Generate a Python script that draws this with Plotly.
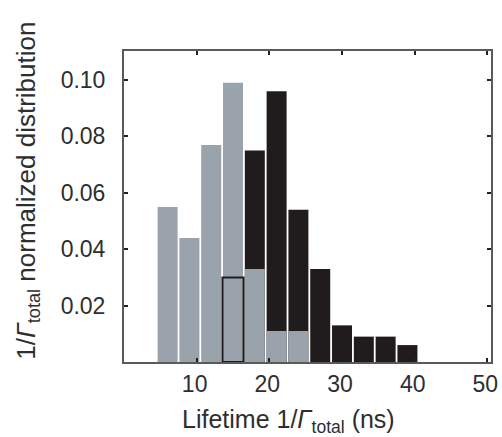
import plotly.graph_objects as go

# Bin centres (ns), bin width 3 ns
bin_centers = [6, 9, 12, 15, 18, 21, 24, 27, 30, 33, 36, 39]
gray_values = [0.055, 0.044, 0.077, 0.099, 0.033, 0.011, 0.011, 0, 0, 0, 0, 0]
black_values = [0, 0, 0, 0.030, 0.075, 0.096, 0.054, 0.033, 0.013, 0.009, 0.009, 0.006]
outline_widths = [0, 0, 0, 2, 0, 0, 0, 0, 0, 0, 0, 0]

x_ticks = [10, 20, 30, 40, 50]
x_ticklabels = ["10", "20", "30", "40", "50"]
y_ticks = [0.02, 0.04, 0.06, 0.08, 0.10]
y_ticklabels = ["0.02", "0.04", "0.06", "0.08", "0.10"]

x_title = "Lifetime 1/<i>Γ</i><sub>total</sub> (ns)"
y_title = "1/<i>Γ</i><sub>total</sub> normalized distribution"

GRAY = "#9aa2ac"
BLACK = "#201c1d"
TXT = "#2e2e2e"
FONT = "Liberation Sans, Arial"

fig = go.Figure()
fig.add_trace(go.Bar(x=bin_centers, y=black_values, width=2.75,
                     marker=dict(color=BLACK, line=dict(width=0)), showlegend=False))
fig.add_trace(go.Bar(x=bin_centers, y=gray_values, width=2.75,
                     marker=dict(color=GRAY, line=dict(width=0)), showlegend=False))
fig.add_trace(go.Bar(x=bin_centers, y=black_values, width=2.9,
                     marker=dict(color="rgba(0,0,0,0)",
                                 line=dict(color=BLACK, width=outline_widths)),
                     showlegend=False))

axis_common = dict(showline=True, linecolor="#5a5a5a", linewidth=2, mirror="ticks",
                   ticks="inside", ticklen=4, tickwidth=1.5, tickcolor="#222",
                   showgrid=False, zeroline=False,
                   tickfont=dict(family=FONT, size=23, color=TXT))

fig.update_layout(
    width=502, height=437,
    margin=dict(l=124, r=4, t=51, b=75),
    paper_bgcolor="white", plot_bgcolor="white",
    barmode="overlay",
    xaxis=dict(range=[0, 50.5], tickvals=x_ticks, ticktext=x_ticklabels,
               ticklabelshift=-2, ticklabeloverflow="allow",
               **axis_common),
    yaxis=dict(range=[0, 0.1103], tickvals=y_ticks, ticktext=y_ticklabels,
               ticklabelstandoff=12,
               **axis_common),
    annotations=[
        dict(text=x_title, xref="paper", yref="paper", x=0.449, y=-0.19,
             xanchor="center", yanchor="middle", showarrow=False,
             font=dict(family=FONT, size=25, color=TXT)),
        dict(text=y_title, xref="paper", yref="paper", x=-0.262, y=0.55,
             xanchor="center", yanchor="middle", textangle=-90, showarrow=False,
             font=dict(family=FONT, size=26, color=TXT)),
    ],
)

fig.write_html("out.html", config={"displayModeBar": False},
               post_script="document.body.style.margin='0';document.body.style.overflow='hidden';")
